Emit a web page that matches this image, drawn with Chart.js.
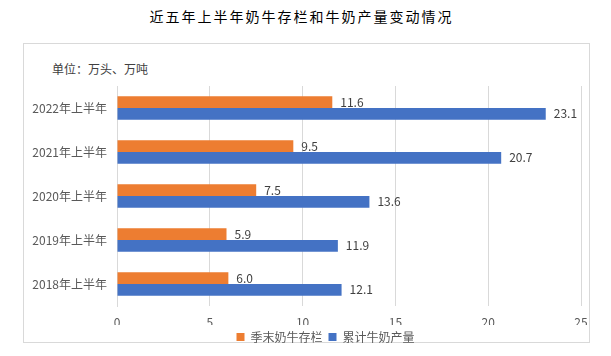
<!DOCTYPE html>
<html>
<head>
<meta charset="utf-8">
<script src="https://cdn.jsdelivr.net/npm/chart.js@4"></script>
<style>
  html, body { margin: 0; padding: 0; background: #ffffff; }
  #wrap { position: relative; width: 611px; height: 356px; overflow: hidden; }
  #title { position: absolute; left: -4px; top: 6px; width: 611px; text-align: center;
    font-family: "Noto Sans CJK SC", sans-serif; font-size: 14px; letter-spacing: 2px; color: #000; line-height: 20px; }
  #frame { position: absolute; left: 23px; top: 43px; width: 565px; height: 298px; border: 1px solid #d9d9d9; }
  #unit { position: absolute; left: 52px; top: 61px; font-family: "Noto Sans CJK SC", sans-serif;
    font-size: 12px; color: #404040; line-height: 16px; }
  canvas { position: absolute; left: 0; top: 0; }
</style>
</head>
<body>
<div id="wrap">
  <div id="title">近五年上半年奶牛存栏和牛奶产量变动情况</div>
  <div id="frame"></div>
  <div id="unit">单位：万头、万吨</div>
  <canvas id="c" width="611" height="356"></canvas>
</div>
<script>
const categories = ["2022年上半年", "2021年上半年", "2020年上半年", "2019年上半年", "2018年上半年"];
const seriesNames = ["季末奶牛存栏", "累计牛奶产量"];
const cattleStock = [11.6, 9.5, 7.5, 5.9, 6.0];
const milkOutput = [23.1, 20.7, 13.6, 11.9, 12.1];
const xTicks = [0, 5, 10, 15, 20, 25];

const FONT = '"Noto Sans CJK SC", "Noto Sans", sans-serif';

const valueLabels = {
  id: 'valueLabels',
  afterDatasetsDraw(chart) {
    const ctx = chart.ctx;
    ctx.save();
    ctx.font = '12px ' + FONT;
    ctx.fillStyle = '#404040';
    ctx.textAlign = 'left';
    ctx.textBaseline = 'middle';
    chart.data.datasets.forEach((ds, di) => {
      chart.getDatasetMeta(di).data.forEach((bar, i) => {
        ctx.fillText(ds.data[i].toFixed(1), bar.x + 8, bar.y);
      });
    });
    ctx.restore();
  }
};

const legendShift = {
  id: 'legendShift',
  afterLayout(chart) {
    if (chart.legend) { chart.legend.left += 35; chart.legend.right += 35; }
  }
};

new Chart(document.getElementById('c'), {
  type: 'bar',
  data: {
    labels: categories,
    datasets: [
      { label: seriesNames[0], data: cattleStock, backgroundColor: '#ED7D31' },
      { label: seriesNames[1], data: milkOutput, backgroundColor: '#4472C4' }
    ]
  },
  options: {
    indexAxis: 'y',
    responsive: false,
    animation: false,
    devicePixelRatio: 1,
    layout: { padding: { left: 0, right: 30, top: 86, bottom: 3 } },
    datasets: { bar: { categoryPercentage: 0.53, barPercentage: 1.0 } },
    scales: {
      x: {
        min: 0, max: 25,
        afterBuildTicks(axis) { axis.ticks = xTicks.map(v => ({ value: v })); },
        grid: { color: '#d9d9d9', drawTicks: false },
        border: { display: false },
        ticks: { color: '#595959', font: { size: 12, family: FONT }, padding: 9 },
        afterFit(axis) { axis.height = 19; }
      },
      y: {
        grid: { display: false, drawTicks: false },
        border: { display: true, color: '#d9d9d9', width: 1 },
        ticks: { color: '#595959', font: { size: 12, family: FONT }, padding: 10 },
        afterFit(axis) { axis.width = 117; }
      }
    },
    plugins: {
      legend: {
        position: 'bottom',
        labels: {
          boxWidth: 8, boxHeight: 8, padding: 6,
          color: '#595959', font: { size: 12, family: FONT }
        }
      },
      title: { display: false },
      tooltip: { enabled: false }
    }
  },
  plugins: [valueLabels, legendShift]
});
</script>
</body>
</html>
